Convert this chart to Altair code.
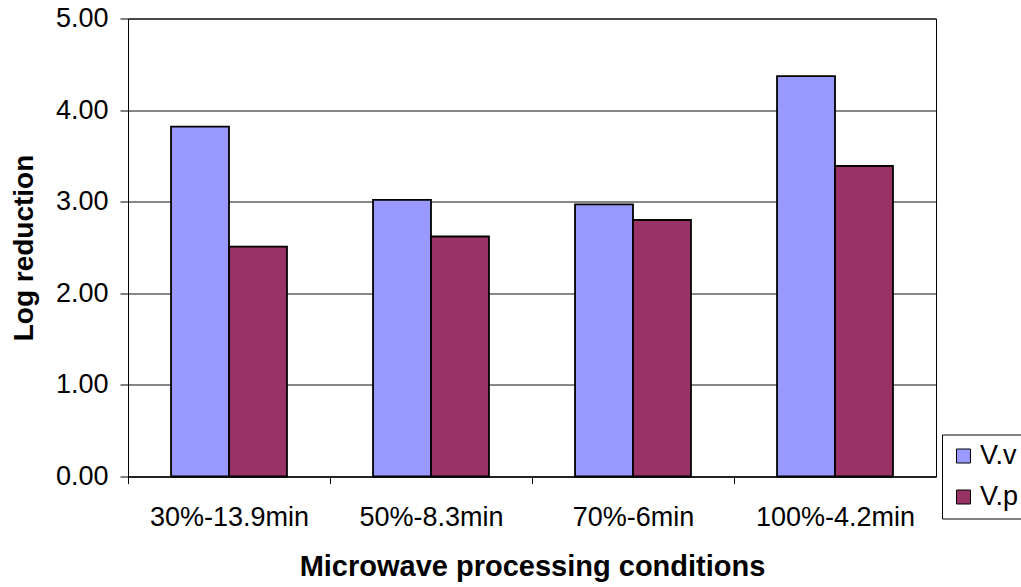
import altair as alt
import pandas as pd

conditions = ["30%-13.9min", "50%-8.3min", "70%-6min", "100%-4.2min"]
series_names = ["V.v", "V.p"]
vv_values = [3.82, 3.02, 2.97, 4.37]
vp_values = [2.51, 2.62, 2.80, 3.39]
y_ticks = [0, 1, 2, 3, 4, 5]

rows = []
for c, a, b in zip(conditions, vv_values, vp_values):
    rows.append({"condition": c, "series": "V.v", "value": a})
    rows.append({"condition": c, "series": "V.p", "value": b})
df = pd.DataFrame(rows)

W, H = 808, 458
FONT = "Liberation Sans"

chart = alt.Chart(df).mark_bar(stroke="black", strokeWidth=1.8).encode(
    x=alt.X("condition:N", sort=conditions,
            scale=alt.Scale(paddingInner=0.426, paddingOuter=0.213),
            axis=alt.Axis(title="Microwave processing conditions", labelAngle=0,
                          labelFont=FONT, labelFontSize=27, labelColor="black",
                          titleFont=FONT, titleFontSize=29, titleFontWeight="bold",
                          titleColor="black", titlePadding=22,
                          domainColor="black", tickColor="black", tickSize=7,
                          tickOffset=-W / 8, labelOffset=W / 8, labelPadding=21,
                          grid=False)),
    xOffset=alt.XOffset("series:N", sort=series_names,
                        scale=alt.Scale(paddingInner=0, paddingOuter=0)),
    y=alt.Y("value:Q", scale=alt.Scale(domain=[0, 5], nice=False),
            axis=alt.Axis(title="Log reduction", values=y_ticks, format=".2f",
                          labelFont=FONT, labelFontSize=27, labelColor="black",
                          labelPadding=12,
                          titleFont=FONT, titleFontSize=28, titleFontWeight="bold",
                          titleColor="black", titlePadding=17,
                          domainColor="black", tickColor="black", tickSize=8,
                          gridColor="#111111", gridWidth=1, grid=True)),
    fill=alt.Color("series:N", sort=series_names,
                   scale=alt.Scale(domain=series_names, range=["#9999FF", "#993366"]),
                   legend=alt.Legend(title=None, orient="none", legendX=814, legendY=416,
                                     strokeColor="black", fillColor="white", padding=8,
                                     symbolType="square", symbolSize=196,
                                     symbolStrokeColor="black", symbolStrokeWidth=1,
                                     labelFont=FONT, labelFontSize=27, labelColor="black",
                                     rowPadding=13, labelOffset=3)),
).properties(
    width=W, height=H,
    autosize=alt.AutoSizeParams(type="none"),
    padding={"left": 128, "top": 18.5, "right": 85, "bottom": 110.5},
).configure_view(stroke="black", strokeWidth=1)

chart.save("out.html", embed_options={"renderer": "svg", "actions": False})
